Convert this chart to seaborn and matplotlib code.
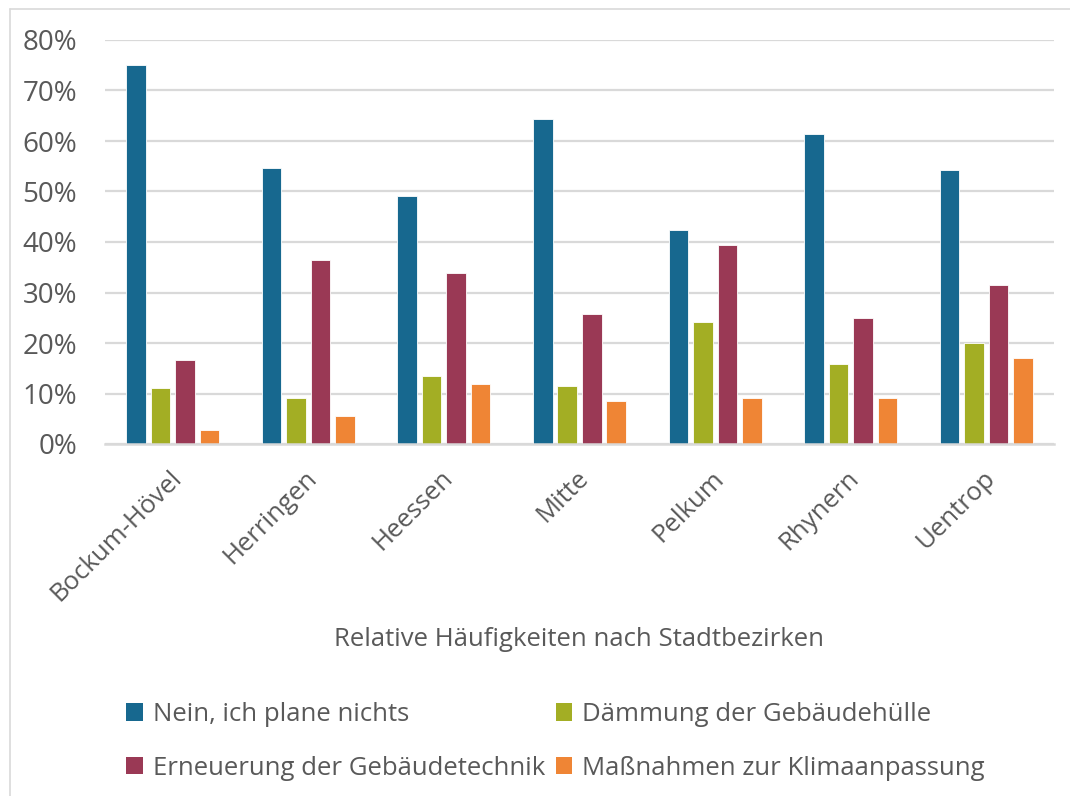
import matplotlib
matplotlib.use("Agg")
import matplotlib.pyplot as plt
from matplotlib.patches import Patch
from matplotlib.lines import Line2D
from matplotlib.transforms import ScaledTranslation
from matplotlib.ticker import PercentFormatter
import seaborn as sns
import pandas as pd

districts = ["Bockum-Hövel", "Herringen", "Heessen", "Mitte", "Pelkum", "Rhynern", "Uentrop"]
series_names = [
    "Nein, ich plane nichts",
    "Dämmung der Gebäudehülle",
    "Erneuerung der Gebäudetechnik",
    "Maßnahmen zur Klimaanpassung",
]
nein_plane_nichts = [75.0, 54.6, 49.1, 64.3, 42.4, 61.3, 54.3]
daemmung_huelle = [11.1, 9.1, 13.5, 11.4, 24.2, 15.9, 20.0]
erneuerung_technik = [16.7, 36.5, 33.9, 25.7, 39.4, 25.0, 31.5]
klimaanpassung = [2.8, 5.5, 11.9, 8.6, 9.1, 9.1, 17.1]
y_ticks = [0, 10, 20, 30, 40, 50, 60, 70, 80]
x_title = "Relative Häufigkeiten nach Stadtbezirken"

colors = ["#17688F", "#A3AE24", "#9A3955", "#EF8535"]
text_color = "#595959"
grid_color = "#D9D9D9"

rows = []
for name, vals in zip(series_names,
                      [nein_plane_nichts, daemmung_huelle, erneuerung_technik, klimaanpassung]):
    for d, v in zip(districts, vals):
        rows.append({"Bezirk": d, "Maßnahme": name, "Anteil": v})
df = pd.DataFrame(rows)

sns.set_theme(style="white")
plt.rcParams["font.family"] = ["Open Sans", "DejaVu Sans"]

fig = plt.figure(figsize=(10.70, 7.96), dpi=100)
ax = fig.add_axes([105 / 1070, 1 - 444 / 796, (1054 - 105) / 1070, (444 - 40) / 796])

sns.barplot(
    data=df, x="Bezirk", y="Anteil", hue="Maßnahme",
    order=districts, hue_order=series_names, palette=colors,
    width=0.722, gap=0.2, errorbar=None, saturation=1,
    edgecolor="white", linewidth=0.6, legend=False, ax=ax,
)

ax.set_ylim(0, 80)
ax.set_xlim(-0.5, len(districts) - 0.5)
ax.set_yticks(y_ticks)
ax.yaxis.set_major_formatter(PercentFormatter(decimals=0))
ax.grid(axis="y", color=grid_color, linewidth=1.6)
ax.set_axisbelow(True)
for side in ["left", "right", "top"]:
    ax.spines[side].set_visible(False)
ax.spines["bottom"].set_color(grid_color)
ax.spines["bottom"].set_linewidth(1.8)

ax.tick_params(axis="y", length=0, pad=20, labelsize=20, labelcolor=text_color)
ax.tick_params(axis="x", length=0, pad=22, labelsize=18.5, labelcolor=text_color)
ax.set_xticks(range(len(districts)))
ax.set_xticklabels(districts, rotation=45, ha="right", va="center", rotation_mode="anchor")
shift = ScaledTranslation(5 / 100, 0, fig.dpi_scale_trans)
for lab in ax.get_xticklabels():
    lab.set_transform(lab.get_transform() + shift)

ax.set_ylabel("")
ax.set_xlabel(x_title, fontsize=18.5, color=text_color)
ax.xaxis.set_label_coords(0.5, -(627 - 444) / 404)

# legend filled row by row
order = [0, 2, 1, 3]
handles = [Patch(facecolor=c, edgecolor="none") for c in colors]
leg = fig.legend(
    [handles[i] for i in order], [series_names[i] for i in order],
    ncol=2, loc="upper left",
    bbox_to_anchor=(126 / 1070, 1 - 702 / 796),
    frameon=False, fontsize=18.5, labelcolor=text_color,
    handlelength=0.65, handleheight=0.65, handletextpad=0.4,
    columnspacing=0.4, labelspacing=1.12, borderpad=0, borderaxespad=0,
)

# outer chart frame
fig.add_artist(Line2D([10 / 1070, 10 / 1070], [0, 1 - 9 / 796],
                      transform=fig.transFigure, color=grid_color, linewidth=1.2))
fig.add_artist(Line2D([10 / 1070, 1], [1 - 9 / 796, 1 - 9 / 796],
                      transform=fig.transFigure, color=grid_color, linewidth=1.2))

fig.savefig("out.png", dpi=100, facecolor="white")
